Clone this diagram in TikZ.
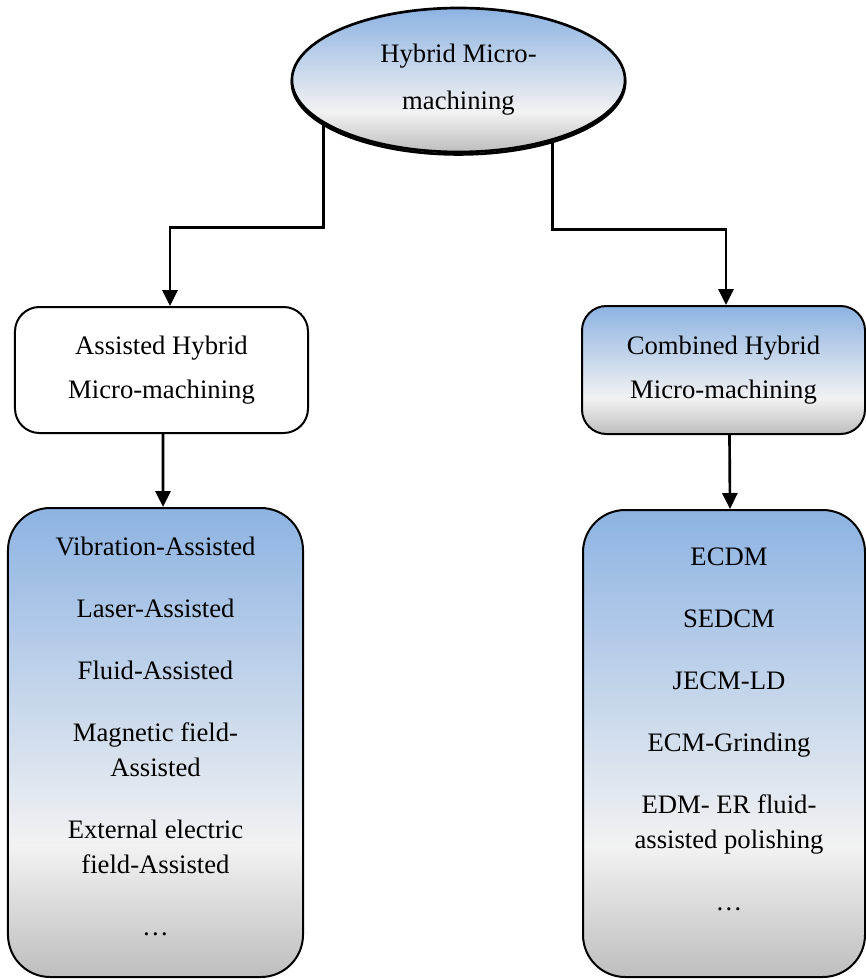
\documentclass[tikz,border=0pt]{standalone}
\usepackage{fontspec}
\setmainfont{Liberation Serif}
\usetikzlibrary{shapes.geometric}
\usetikzlibrary{arrows.meta}
\definecolor{gradblue}{RGB}{141,179,226}
\definecolor{gradwhite}{RGB}{242,242,242}
\definecolor{gradgray}{RGB}{190,190,190}
\pgfdeclareverticalshading{wordfill}{100bp}{color(0bp)=(gradgray); color(25bp)=(gradgray); color(39bp)=(gradwhite); color(75bp)=(gradblue); color(100bp)=(gradblue)}

\begin{document}
\begin{tikzpicture}[x=0.45pt, y=-0.45pt]%
	\tikzstyle{oval}=[ellipse, draw=black, line width=1.2pt, preaction={draw=black, line width=1.2pt, transform canvas={yshift=-1.1pt}}, shade, shading=wordfill, minimum width=149.9pt, minimum height=64.8pt, inner sep=0pt, align=center, font=\fontsize{12}{15.75}\selectfont];
	\tikzstyle{group}=[rectangle, rounded corners=11pt, draw=black, line width=0.9pt, inner sep=0pt, align=center, font=\fontsize{12}{15.75}\selectfont];
	\tikzstyle{listbox}=[rectangle, rounded corners=19pt, draw=black, line width=0.9pt, shade, shading=wordfill];
	\tikzstyle{listtext}=[inner sep=0pt, align=center, font=\fontsize{12}{15.75}\selectfont];
	\tikzstyle{link}=[line width=1.2pt, -{Triangle[length=7.2pt, width=6.8pt]}];
	\useasboundingbox (0, 0) rectangle (866, 979);
	\node[oval] (hybrid) at (458.5, 80) {Hybrid Micro-\\[5.4pt]machining};
	\node[group, fill=white, minimum width=131.85pt, minimum height=56.7pt] (asst) at (161.5, 370) {Assisted Hybrid\\[4.05pt]Micro-machining};
	\node[group, shade, shading=wordfill, minimum width=127.35pt, minimum height=57.6pt] (comb) at (723.5, 370) {Combined Hybrid\\[4.05pt]Micro-machining};
	\node[listbox, minimum width=132.75pt, minimum height=211.05pt] (asstbox) at (155.5, 742.5) {};
	\node[listbox, minimum width=126.9pt, minimum height=210.15pt] (combbox) at (724, 743.5) {};
	\node[listtext] (asstlist) at (155.5, 736) {Vibration-Assisted\\[12.15pt]Laser-Assisted\\[12.15pt]Fluid-Assisted\\[12.15pt]Magnetic field-\\Assisted\\[12.15pt]External electric\\field-Assisted\\[12.15pt]…};
	\node[listtext] (comblist) at (729, 729.7) {ECDM\\[12.15pt]SEDCM\\[12.15pt]JECM-LD\\[12.15pt]ECM-Grinding\\[12.15pt]EDM- ER fluid-\\assisted polishing\\[12.15pt]…};
	\draw[link] (hybrid.198) -- ++(0, 103.5) -| ([xshift=3.8pt]asst.north);
	\draw[link] (hybrid.327) -- ++(0, 88.5) -| ([xshift=1.1pt]comb.north);
	\draw[link] ([xshift=0.7pt]asst.south) -- ([xshift=3.4pt]asstbox.north);
	\draw[link] ([xshift=2.7pt]comb.south) -- ([xshift=2.7pt]combbox.north);
\end{tikzpicture}
\end{document}
